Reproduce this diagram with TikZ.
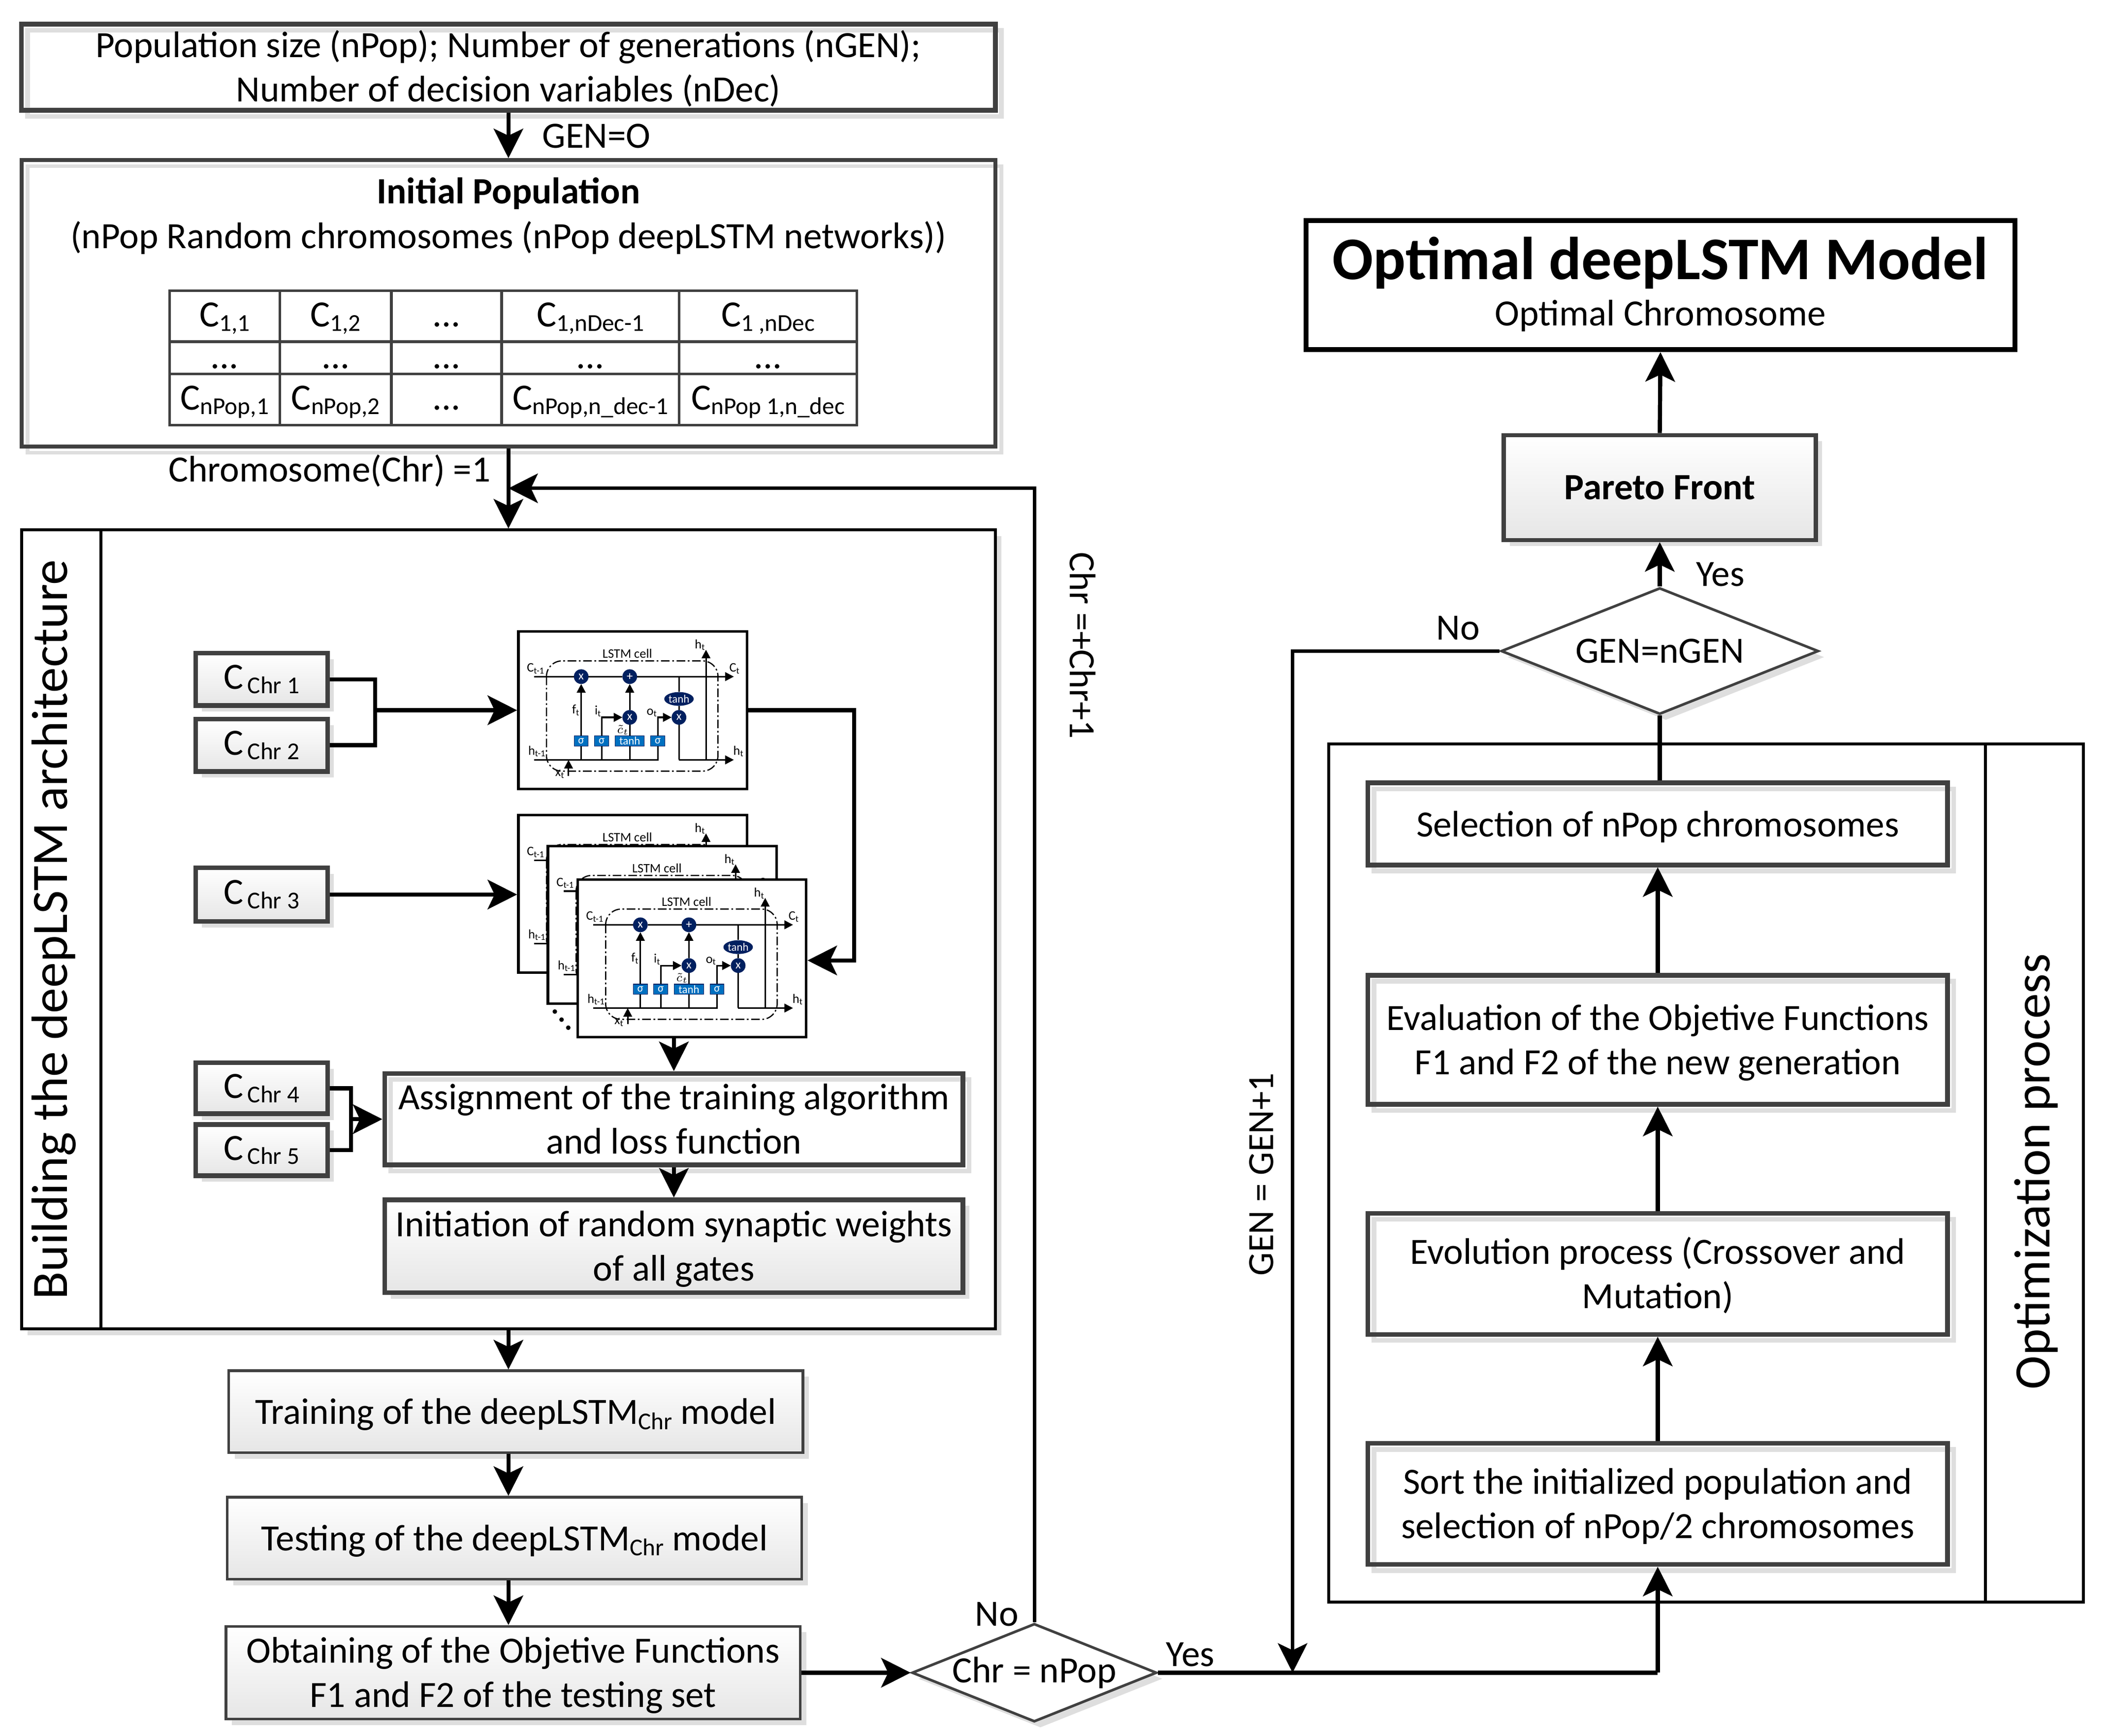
\documentclass[tikz,border=0pt]{standalone}
\usepackage{fontspec}
\setmainfont{Carlito}
\usetikzlibrary{arrows.meta,shapes.geometric,shadows}
\newcommand{\pxu}{0.027321cm}
\definecolor{boxgray}{HTML}{404040}
\definecolor{shadegray}{HTML}{DEDEDE}
\definecolor{fillgray}{HTML}{E6E6E6}
\definecolor{cellnavy}{HTML}{002060}
\definecolor{cellblue}{HTML}{0070C0}
\tikzstyle{maintext} = [font=\fontsize{21.4}{25.6}\selectfont]
\tikzstyle{labeltext} = [maintext,inner sep=0pt]
\tikzstyle{lowtext} = [labeltext,yshift=-1.5pt]
\tikzstyle{softshadow} = [drop shadow={shadow xshift=3.5pt,shadow yshift=-3.5pt,fill=shadegray,opacity=1}]
\tikzstyle{ringshadow} = [drop shadow={shadow xshift=3.5pt,shadow yshift=-3.5pt,fill=none,draw=shadegray,opacity=1}]
\tikzstyle{flowbox} = [rectangle,draw=boxgray,line width=1.5pt,align=center,inner sep=0pt,maintext]
\tikzstyle{oneline} = [execute at begin node=\rule{0pt}{18pt}]
\tikzstyle{twoline} = [text height=41pt,text depth=1pt]
\tikzstyle{gradbox} = [flowbox,softshadow,top color=white,bottom color=fillgray]
\tikzstyle{heavybox} = [flowbox,ringshadow,line width=2.7pt]
\tikzstyle{chrbox} = [gradbox,line width=2.7pt,minimum width=98*\pxu,text height=15pt,text depth=3.6pt]
\tikzstyle{framebox} = [rectangle,draw=black,line width=1.7pt,inner sep=0pt]
\tikzstyle{decision} = [diamond,aspect=2.5,draw=boxgray,line width=1.5pt,inner sep=0pt,maintext,softshadow,fill=white]
\tikzstyle{tablecell} = [rectangle,draw=boxgray,line width=1.5pt,inner sep=0pt,font=\fontsize{21.4}{16}\selectfont,text height=14pt,text depth=1.8pt]
\tikzstyle{flowarrow} = [-{Stealth[length=17pt,width=17pt,inset=4pt]},line width=2.4pt]
\tikzstyle{flowline} = [line width=2.4pt]
\tikzstyle{cellframe} = [rectangle,draw=black,fill=white,line width=1.5pt,inner sep=0pt,minimum width=170*\pxu,minimum height=117*\pxu]
\tikzstyle{cellop} = [circle,fill=cellnavy,draw=cellnavy,text=white,inner sep=0pt,minimum size=10.4*\pxu,font=\fontsize{7}{7}\selectfont]
\tikzstyle{cellgate} = [rectangle,fill=cellblue,draw=cellnavy,line width=.3pt,text=white,inner sep=0pt,minimum height=7.5*\pxu,font=\fontsize{6.5}{6.5}\selectfont]
\tikzstyle{celltext} = [inner sep=0pt,font=\fontsize{7.5}{8}\selectfont]
\tikzstyle{cellarrow} = [-{Stealth[length=5pt,width=5pt,inset=0pt]},line width=.9pt]
\tikzstyle{cellline} = [line width=.9pt]
\newcommand{\csub}[1]{C\raisebox{-2.5pt}{\fontsize{14}{14}\selectfont #1}}
\newcommand{\chrsub}{\raisebox{-3pt}{\fontsize{14}{14}\selectfont Chr}}
\newcommand{\lstmcell}[2]{
 \begin{scope}[shift={(#2)}]
  \node[cellframe] (#1box) at (85.4,58.5) {};
  \draw[line width=.7pt,rounded corners=9pt,dash pattern=on 5pt off 1.5pt on 1pt off 1.5pt] (21.3,21.8) rectangle (148.8,103.8);
  \coordinate (#1cin) at (12.2,33.5);
  \coordinate (#1cout) at (160.6,33.5);
  \coordinate (#1hin) at (12.2,95.4);
  \coordinate (#1hend) at (104.1,95.4);
  \coordinate (#1hstart) at (119.8,95.4);
  \coordinate (#1hout) at (160.6,95.4);
  \coordinate (#1htop) at (139.9,13.5);
  \coordinate (#1xin) at (37.7,107.2);
  \node[cellop] (#1xf) at (47.1,33.5) {x};
  \node[cellop] (#1add) at (83.2,33.5) {+};
  \node[cellop] (#1xi) at (83.2,63.8) {x};
  \node[cellop] (#1xo) at (119.8,63.8) {x};
  \node[ellipse,fill=cellnavy,text=white,inner sep=0pt,minimum width=21.4*\pxu,minimum height=10.2*\pxu,font=\fontsize{6.5}{6.5}\selectfont] (#1th) at (119.8,50.1) {tanh};
  \node[cellgate,minimum width=10.5*\pxu] (#1sf) at (47.1,81.4) {σ};
  \node[cellgate,minimum width=10.5*\pxu] (#1si) at (62.3,81.4) {σ};
  \node[cellgate,minimum width=21.7*\pxu] (#1sc) at (83.2,81.4) {tanh};
  \node[cellgate,minimum width=10.5*\pxu] (#1so) at (104.1,81.4) {σ};
  \draw[cellline] (#1cin) -- (#1xf);
  \draw[cellline] (#1xf) -- (#1add);
  \draw[cellarrow] (#1add) -- (#1cout);
  \draw[cellline] (#1hin) -- (#1hend) -- (#1so);
  \draw[cellarrow] (#1hstart) -- (#1hout);
  \draw[cellline] (#1xo) -- (#1hstart);
  \draw[cellarrow] (#1hout -| #1htop) -- (#1htop);
  \draw[cellarrow] (#1xin) -- (#1xin |- #1hin);
  \draw[cellarrow] (#1sf) -- (#1xf);
  \draw[cellline] (#1xf |- #1hin) -- (#1sf);
  \draw[cellline] (#1si |- #1hin) -- (#1si);
  \draw[cellline] (#1sc |- #1hin) -- (#1sc);
  \draw[cellarrow] (#1si) |- (#1xi);
  \draw[cellarrow] (#1so) |- (#1xo);
  \draw[cellline] (#1sc) -- (#1xi);
  \draw[cellarrow] (#1xi) -- (#1add);
  \draw[cellline] (#1xo) -- (#1th);
  \draw[cellline] (#1th) -- (#1th |- #1add);
  \node[celltext] (#1title) at (81.4,16.5) {LSTM cell};
  \node[celltext,anchor=west] (#1lc) at (6.5,27.5) {C\textsubscript{t-1}};
  \node[celltext,anchor=west] (#1lh) at (7.5,89) {h\textsubscript{t-1}};
  \node[celltext,anchor=west] (#1lct) at (157,27.5) {C\textsubscript{t}};
  \node[celltext,anchor=west] (#1lht) at (160,89) {h\textsubscript{t}};
  \node[celltext] (#1lhu) at (135.6,10) {h\textsubscript{t}};
  \node[celltext] (#1lx) at (31.4,106) {x\textsubscript{t}};
  \node[celltext] (#1lf) at (43.3,58.4) {f\textsubscript{t}};
  \node[celltext] (#1li) at (59.7,59.2) {i\textsubscript{t}};
  \node[celltext] (#1lo) at (99.8,60.4) {o\textsubscript{t}};
  \node[celltext] (#1lcc) at (78.2,73.2) {$\tilde{c}_t$};
 \end{scope}
}

\begin{document}
\begin{tikzpicture}[x=\pxu,y=-\pxu]
    \useasboundingbox (0,0) rectangle (1568,1290.5);

    % inputs
    \node[heavybox,twoline,minimum width=724*\pxu,minimum height=64*\pxu] (params) at (378,50) {Population size (nPop); Number of generations (nGEN);\\Number of decision variables (nDec)};
    \node[heavybox,line width=2.2pt,minimum width=724*\pxu,minimum height=213*\pxu] (initpop) at (378,225.5) {};
    \node[lowtext] (inittitle) at (378,142) {\textbf{Initial Population}};
    \node[lowtext] (initsub) at (378,175) {(nPop Random chromosomes (nPop deepLSTM networks))};
    \node[labeltext,anchor=west] (genzero) at (403,101) {GEN=O};
    \node[labeltext,anchor=east] (chrlabel) at (365,350) {Chromosome(Chr) =1};

    % chromosome table
    \foreach \cname/\xc/\wc/\ttop/\tbot in {a/167/82/{\csub{1,1}}/{\csub{nPop,1}},b/249.5/83/{\csub{1,2}}/{\csub{nPop,2}},c/332/82/{...}/{...},d/439/132/{\csub{1,nDec-1}}/{\csub{nPop,n\_dec-1}},e/571/132/{\csub{1 ,nDec}}/{\csub{nPop 1,n\_dec}}} {
     \node[tablecell,minimum width=\wc*\pxu,minimum height=38*\pxu] (\cname top) at (\xc,235) {\ttop};
     \node[tablecell,minimum width=\wc*\pxu,minimum height=24*\pxu] (\cname mid) at (\xc,266) {...};
     \node[tablecell,minimum width=\wc*\pxu,minimum height=38*\pxu] (\cname bot) at (\xc,297) {\tbot};
    }

    % building block
    \node[framebox,softshadow,fill=white,minimum width=724*\pxu,minimum height=594*\pxu] (build) at (378,691) {};
    \coordinate (builddiv) at (75,394);
    \draw[line width=1.7pt] (builddiv) -- (builddiv |- build.south);
    \node[inner sep=0pt,rotate=90,font=\fontsize{29.5}{32}\selectfont] (buildtext) at (40,691) {Building the deepLSTM architecture};

    \node[chrbox,minimum height=39*\pxu] (chrone) at (194.5,505) {\csub{\,Chr 1}};
    \node[chrbox,minimum height=39*\pxu] (chrtwo) at (194.5,554) {\csub{\,Chr 2}};
    \node[chrbox,minimum height=40*\pxu] (chrthree) at (194.5,665) {\csub{\,Chr 3}};
    \node[chrbox,minimum height=38*\pxu] (chrfour) at (194.5,809) {\csub{\,Chr 4}};
    \node[chrbox,minimum height=38*\pxu] (chrfive) at (194.5,855) {\csub{\,Chr 5}};

    \lstmcell{cellone}{385,469.5}
    \lstmcell{celltwo}{385,606}
    \lstmcell{cellthree}{407,629}
    \lstmcell{cellfour}{429,654}
    \fill (412.5,752) circle (1.7) (417.5,758) circle (1.7) (422.5,764) circle (1.7);

    \node[heavybox,twoline,minimum width=430*\pxu,minimum height=68*\pxu] (assign) at (501,832) {Assignment of the training algorithm\\and loss function};
    \node[gradbox,twoline,line width=2.7pt,minimum width=430*\pxu,minimum height=69*\pxu] (weights) at (501,926.5) {Initiation of random synaptic weights\\of all gates};

    \coordinate (joinone) at (279,528);
    \coordinate (joinfour) at (261,832);
    \coordinate (cellturn) at (635,714);
    \draw[flowline] (chrone.east) -| (joinone);
    \draw[flowline] (chrtwo.east) -| (joinone);
    \draw[flowarrow] (joinone) -- (joinone -| cellonebox.west);
    \draw[flowarrow] (chrthree.east) -- (chrthree -| celltwobox.west);
    \draw[flowarrow] (cellonebox.east) -| (cellturn) -- (cellfourbox.east |- cellturn);
    \draw[flowline] (chrfour.east) -| (joinfour);
    \draw[flowline] (chrfive.east) -| (joinfour);
    \draw[flowarrow] (joinfour) -- (assign.west);
    \draw[flowarrow] (assign.north |- cellfourbox.south) -- (assign.north);
    \draw[flowarrow] (assign.south) -- (weights.north);

    % evaluation steps
    \node[gradbox,oneline,minimum width=427*\pxu,minimum height=61*\pxu] (training) at (383.5,1049.5) {Training of the deepLSTM\chrsub{} model};
    \node[gradbox,oneline,minimum width=427*\pxu,minimum height=61*\pxu] (testing) at (382.5,1143.5) {Testing of the deepLSTM\chrsub{} model};
    \node[gradbox,twoline,minimum width=427*\pxu,minimum height=69*\pxu] (objective) at (381.5,1243.5) {Obtaining of the Objetive Functions\\F1 and F2 of the testing set};
    \node[decision,minimum width=182*\pxu,minimum height=73*\pxu] (chrdec) at (769,1243.5) {Chr = nPop};
    \node[labeltext] (chrno) at (741,1200) {No};
    \node[labeltext] (chryes) at (885,1230) {Yes};
    \node[maintext,inner sep=0pt,rotate=-90] (chrinc) at (805,480) {Chr =+Chr+1};

    \draw[flowarrow] (params.south) -- (initpop.north);
    \draw[flowarrow] (initpop.south) -- (build.north);
    \draw[flowarrow] (build.south) -- (build.south |- training.north);
    \draw[flowarrow] (training.south -| build.south) -- (build.south |- testing.north);
    \draw[flowarrow] (testing.south -| build.south) -- (build.south |- objective.north);
    \draw[flowarrow] (objective.east) -- (chrdec.west);
    \coordinate (backjoin) at (378,363);
    \draw[flowarrow,line width=2pt] (chrdec.north) |- (backjoin);

    % optimization side
    \node[rectangle,draw=black,line width=2.8pt,inner sep=0pt,minimum width=527*\pxu,minimum height=96*\pxu] (optimal) at (1234.5,212) {};
    \node[inner sep=0pt,font=\fontsize{35}{38}\selectfont\bfseries] (optimaltitle) at (1234.5,195.5) {Optimal deepLSTM Model};
    \node[lowtext] (optimalsub) at (1234.5,233) {Optimal Chromosome};
    \node[gradbox,line width=2.4pt,minimum width=232*\pxu,minimum height=78*\pxu,font=\fontsize{21.4}{25.6}\selectfont\bfseries] (pareto) at (1234,362.5) {Pareto Front};
    \node[decision,minimum width=236*\pxu,minimum height=94*\pxu] (gendec) at (1234,484) {GEN=nGEN};
    \node[labeltext] (genyes) at (1279,427) {Yes};
    \node[labeltext] (genno) at (1084,467) {No};
    \node[maintext,inner sep=0pt,rotate=90] (geninc) at (938,873) {GEN = GEN+1};

    \node[framebox,minimum width=561*\pxu,minimum height=638*\pxu] (optproc) at (1268.5,872) {};
    \coordinate (optdiv) at (1476,553);
    \draw[line width=1.7pt] (optdiv) -- (optdiv |- optproc.south);
    \node[inner sep=0pt,rotate=90,font=\fontsize{29.5}{32}\selectfont] (opttext) at (1514,871) {Optimization process};

    \node[heavybox,oneline,minimum width=431*\pxu,minimum height=61*\pxu] (selection) at (1232.5,612.5) {Selection of nPop chromosomes};
    \node[heavybox,twoline,minimum width=431*\pxu,minimum height=96*\pxu] (evaluation) at (1232.5,773) {Evaluation of the Objetive Functions\\F1 and F2 of the new generation};
    \node[heavybox,twoline,minimum width=431*\pxu,minimum height=90*\pxu] (evolution) at (1232.5,947) {Evolution process (Crossover and\\Mutation)};
    \node[heavybox,twoline,minimum width=431*\pxu,minimum height=90*\pxu] (sorting) at (1232.5,1118) {Sort the initialized population and\\selection of nPop/2 chromosomes};

    \coordinate (yesjoin) at (1232.5,1243.5);
    \coordinate (genturn) at (961,484);
    \draw[flowline] (chrdec.east) -- (yesjoin);
    \draw[flowarrow] (yesjoin) -- (sorting.south);
    \draw[flowarrow] (sorting.north) -- (evolution.south);
    \draw[flowarrow] (evolution.north) -- (evaluation.south);
    \draw[flowarrow] (evaluation.north) -- (selection.south);
    \draw[flowline] (selection.north -| gendec.south) -- (gendec.south);
    \draw[flowarrow] (gendec.north) -- (pareto.south);
    \draw[flowarrow] (pareto.north) -- (optimal.south);
    \draw[flowarrow,line width=2pt] (gendec.west) -- (genturn) -- (genturn |- yesjoin);
\end{tikzpicture}
\end{document}
